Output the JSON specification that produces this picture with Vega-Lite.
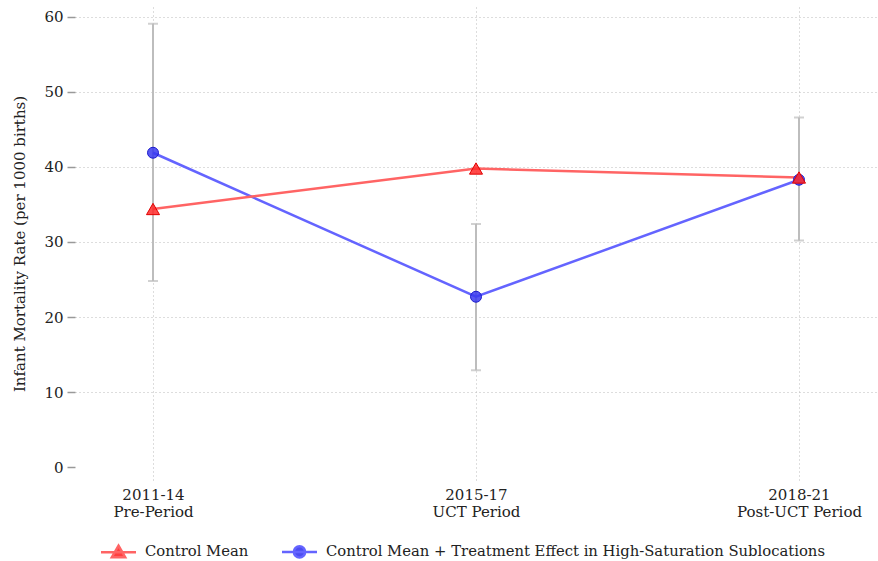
{
  "$schema": "https://vega.github.io/schema/vega-lite/v6.json",
  "width": 803,
  "height": 473,
  "autosize": {"type": "none"},
  "padding": {"left": 75, "top": 7, "right": 0, "bottom": 81},
  "background": "white",
  "config": {
    "view": {"stroke": null},
    "font": "DejaVu Serif",
    "axis": {
      "labelFont": "DejaVu Serif",
      "titleFont": "DejaVu Serif",
      "labelFontSize": 15,
      "titleFontSize": 15,
      "labelColor": "#222222",
      "titleColor": "#222222",
      "titleFontWeight": "normal",
      "gridColor": "#BBBBBB",
      "gridDash": [1, 3],
      "gridWidth": 1
    },
    "legend": {"labelFont": "DejaVu Serif", "labelFontSize": 14.8, "labelColor": "#222222", "labelLimit": 700}
  },
  "datasets": {
    "pts": [
      {"t": 0, "series": "Control Mean + Treatment Effect in High-Saturation Sublocations", "rate": 41.9},
      {"t": 1, "series": "Control Mean + Treatment Effect in High-Saturation Sublocations", "rate": 22.7},
      {"t": 2, "series": "Control Mean + Treatment Effect in High-Saturation Sublocations", "rate": 38.3},
      {"t": 0, "series": "Control Mean", "rate": 34.4},
      {"t": 1, "series": "Control Mean", "rate": 39.8},
      {"t": 2, "series": "Control Mean", "rate": 38.6}
    ],
    "ci": [
      {"t": 0, "lo": 24.8, "hi": 59.1},
      {"t": 1, "lo": 12.9, "hi": 32.4},
      {"t": 2, "lo": 30.2, "hi": 46.6}
    ]
  },
  "layer": [
    {
      "data": {"name": "ci"},
      "mark": {
        "type": "errorbar",
        "ticks": {"size": 10, "thickness": 2, "color": "#BDBDBD"},
        "rule": {"strokeWidth": 2, "color": "#BDBDBD"}
      },
      "encoding": {
        "x": {
          "field": "t",
          "type": "quantitative",
          "scale": {"domain": [-0.2415, 2.2446], "nice": false, "zero": false},
          "axis": {
            "title": null,
            "values": [0, 1, 2],
            "domain": false,
            "ticks": false,
            "grid": true,
            "labelPadding": 7,
            "labelLineHeight": 17,
            "labelBaseline": "top",
            "labelExpr": "datum.value == 0 ? ['2011-14', 'Pre-Period'] : datum.value == 1 ? ['2015-17', 'UCT Period'] : ['2018-21', 'Post-UCT Period']"
          }
        },
        "y": {
          "field": "lo",
          "type": "quantitative",
          "scale": {"domain": [-1.733, 61.333], "nice": false, "zero": false},
          "axis": {
            "title": "Infant Mortality Rate (per 1000 births)",
            "values": [0, 10, 20, 30, 40, 50, 60],
            "domain": false,
            "ticks": true,
            "tickSize": 8,
            "tickColor": "#999999",
            "tickWidth": 1.5,
            "labelPadding": 4,
            "titlePadding": 16,
            "grid": true,
            "gridOpacity": {"condition": {"test": "datum.value == 0", "value": 0}, "value": 1}
          }
        },
        "y2": {"field": "hi"}
      }
    },
    {
      "mark": {"type": "rule", "color": "#999999", "strokeWidth": 1.5},
      "encoding": {"x": {"datum": -0.2415}, "y": {"datum": 0}, "y2": {"datum": 60}}
    },
    {
      "mark": {"type": "rule", "color": "#999999", "strokeWidth": 1.5},
      "encoding": {"x": {"datum": 0}, "x2": {"datum": 2}, "y": {"datum": -1.733}}
    },
    {
      "data": {"name": "pts"},
      "mark": {"type": "line", "strokeWidth": 2.5},
      "encoding": {
        "x": {"field": "t", "type": "quantitative"},
        "y": {"field": "rate", "type": "quantitative"},
        "color": {
          "field": "series",
          "type": "nominal",
          "scale": {
            "domain": ["Control Mean", "Control Mean + Treatment Effect in High-Saturation Sublocations"],
            "range": ["#FF6464", "#6464FF"]
          },
          "legend": {
            "title": null,
            "orient": "none",
            "direction": "horizontal",
            "legendX": 35,
            "legendY": 536,
            "symbolSize": 196,
            "symbolStrokeWidth": 2.5,
            "labelOffset": 18,
            "columnPadding": 28,
            "encode": {
              "symbols": {
                "update": {
                  "shape": {"signal": "datum.value == 'Control Mean' ? 'M-2.5,0H2.5M0,-0.95L0.95,0.7L-0.95,0.7Z' : 'M-2.5,0H2.5M0.8,0A0.8,0.8 0 1,1 -0.8,0A0.8,0.8 0 1,1 0.8,0Z'"},
                  "fill": {"signal": "datum.value == 'Control Mean' ? '#FF2A2A' : '#3A3AF0'"},
                  "stroke": {"signal": "datum.value == 'Control Mean' ? '#FF6464' : '#6464FF'"},
                  "strokeWidth": {"value": 2.5},
                  "fillOpacity": {"value": 0.9},
                  "opacity": {"value": 1}
                }
              }
            }
          }
        }
      }
    },
    {
      "data": {"name": "pts"},
      "transform": [{"filter": "datum.series != 'Control Mean'"}],
      "mark": {"type": "point", "shape": "circle", "filled": false, "size": 120, "fill": "#3A3AF0", "stroke": "#1A1ACC", "strokeWidth": 1, "fillOpacity": 0.85},
      "encoding": {
        "x": {"field": "t", "type": "quantitative"},
        "y": {"field": "rate", "type": "quantitative"}
      }
    },
    {
      "data": {"name": "pts"},
      "transform": [{"filter": "datum.series == 'Control Mean'"}],
      "mark": {"type": "point", "shape": "triangle-up", "filled": false, "size": 170, "fill": "#FF2A2A", "stroke": "#E00000", "strokeWidth": 1, "fillOpacity": 0.85},
      "encoding": {
        "x": {"field": "t", "type": "quantitative"},
        "y": {"field": "rate", "type": "quantitative"}
      }
    }
  ]
}
